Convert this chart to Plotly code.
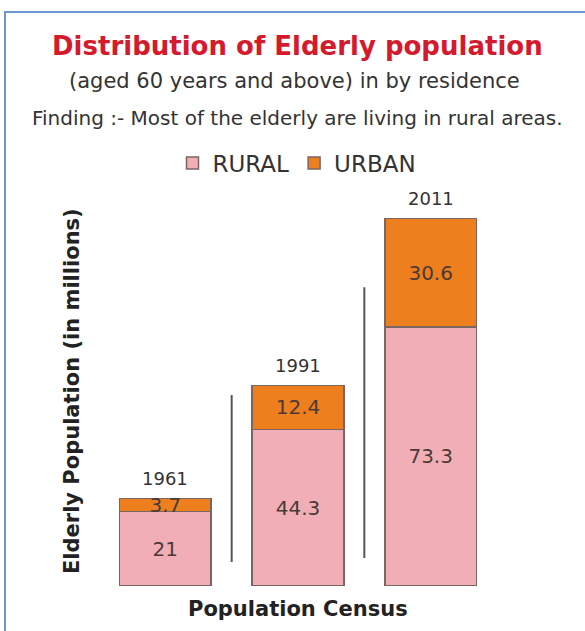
import plotly.graph_objects as go

# Census years and elderly population (millions) by residence
years = ["1961", "1991", "2011"]
rural = [21, 44.3, 73.3]
urban = [3.7, 12.4, 30.6]
totals = [r + u for r, u in zip(rural, urban)]

RURAL_COLOR = "#F2AEB6"
URBAN_COLOR = "#EE7F1E"
EDGE = "#7a6661"
FONT = "DejaVu Sans"

W, H = 585, 631
ML, MR, MT, MB = 99, 88, 197, 45
PW, PH = W - ML - MR, H - MT - MB


def px_x(px):
    return (px - ML) / PW


def px_y(py):
    return (H - MB - py) / PH


fig = go.Figure()

fig.add_trace(go.Bar(
    name="RURAL", x=years, y=rural,
    marker=dict(color=RURAL_COLOR, line=dict(color=EDGE, width=1.5)),
    text=[f"{v:g}" for v in rural], textposition="inside",
    insidetextanchor="middle",
    textfont=dict(family=FONT, size=20, color="#4a3a36"),
    width=0.69,
))
fig.add_trace(go.Bar(
    name="URBAN", x=years, y=urban,
    marker=dict(color=URBAN_COLOR, line=dict(color=EDGE, width=1.5)),
    text=[f"{v:g}" for v in urban], textposition="inside",
    insidetextanchor="middle",
    textfont=dict(family=FONT, size=20, color="#4a3a36"),
    width=0.69,
))

shapes = [
    # separators between the census bars
    dict(type="line", xref="x", yref="y", x0=0.5, x1=0.5, y0=6.8, y1=54,
         line=dict(color="#555555", width=2)),
    dict(type="line", xref="x", yref="y", x0=1.5, x1=1.5, y0=7.9, y1=84.5,
         line=dict(color="#555555", width=2)),
    # frame around the panel
    dict(type="rect", xref="paper", yref="paper",
         x0=px_x(5), x1=px_x(620), y0=px_y(660), y1=px_y(12),
         line=dict(color="#6f95d2", width=2), fillcolor="rgba(0,0,0,0)",
         layer="below"),
]

annotations = [
    dict(text="<b>Distribution of Elderly population</b>",
         x=px_x(297), y=px_y(46), font=dict(family=FONT, size=26, color="#D51A2E")),
    dict(text="(aged 60 years and above) in by residence",
         x=px_x(294), y=px_y(81), font=dict(family=FONT, size=21, color="#333333")),
    dict(text="Finding :- Most of the elderly are living in rural areas.",
         x=px_x(297), y=px_y(118), font=dict(family=FONT, size=20, color="#333333")),
    dict(text="<b>Elderly Population (in millions)</b>", textangle=-90,
         x=px_x(72), y=px_y(391), font=dict(family=FONT, size=21, color="#222222")),
    dict(text="<b>Population Census</b>",
         x=px_x(298), y=px_y(609), font=dict(family=FONT, size=21, color="#222222")),
]
for a in annotations:
    a.update(xref="paper", yref="paper", xanchor="center", yanchor="middle",
             showarrow=False)

# census year written above each stacked bar
for i, (yr, tot) in enumerate(zip(years, totals)):
    annotations.append(dict(
        text=yr, x=i, y=tot, xref="x", yref="y", yshift=20,
        xanchor="center", yanchor="middle", showarrow=False,
        font=dict(family=FONT, size=18, color="#333333"),
    ))

fig.update_layout(
    width=W, height=H,
    margin=dict(l=ML, r=MR, t=MT, b=MB),
    barmode="stack",
    paper_bgcolor="white", plot_bgcolor="white",
    font=dict(family=FONT, color="#333333"),
    uniformtext=dict(mode="show", minsize=20),
    legend=dict(orientation="h", x=px_x(297), xanchor="center",
                y=px_y(163), yanchor="middle",
                font=dict(family=FONT, size=23, color="#333333"),
                traceorder="normal", itemwidth=30),
    xaxis=dict(showticklabels=False, showgrid=False, zeroline=False,
               showline=False, ticks="", range=[-0.5, 2.5]),
    yaxis=dict(showticklabels=False, showgrid=False, zeroline=False,
               showline=False, ticks="", range=[0, 110]),
    shapes=shapes,
    annotations=annotations,
    showlegend=True,
)

fig.write_html("out.html")
